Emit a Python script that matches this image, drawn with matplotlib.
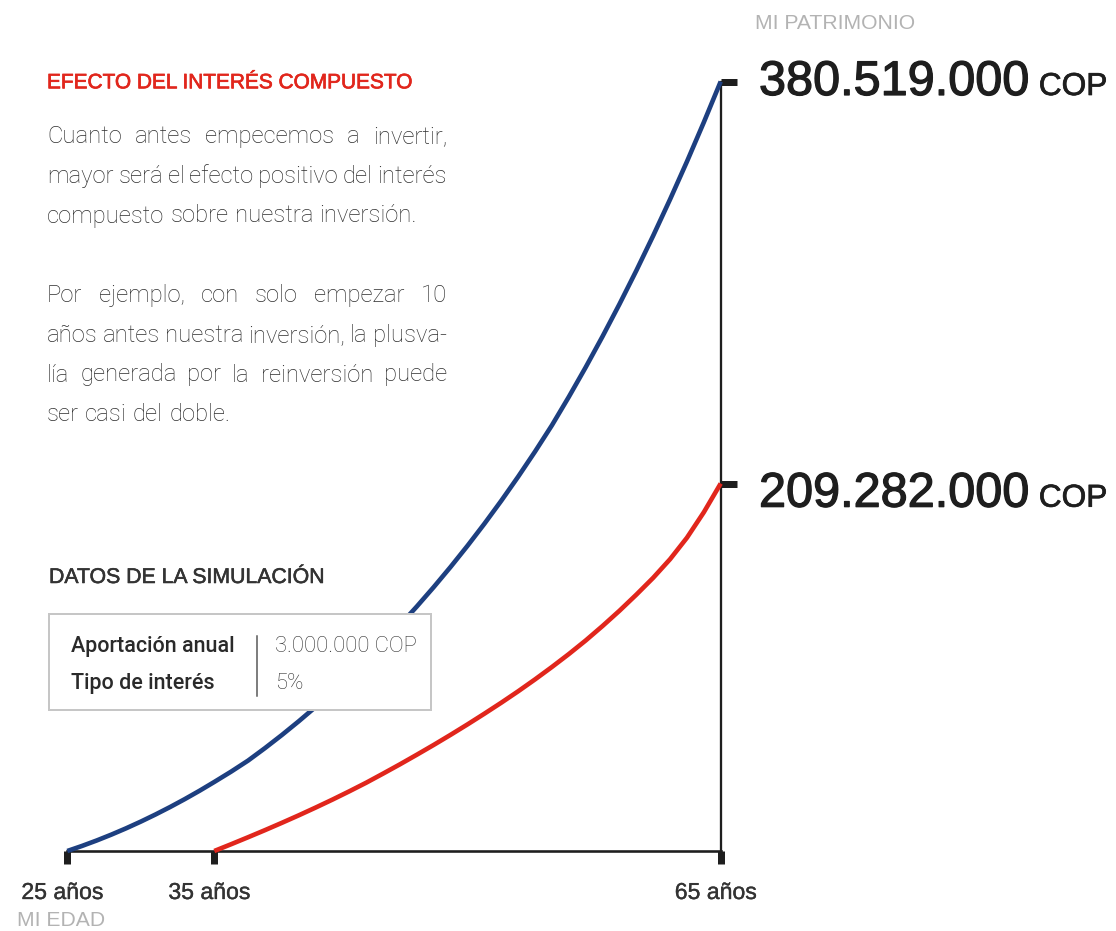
import numpy as np
import matplotlib
matplotlib.use('Agg')
import matplotlib.pyplot as plt
import matplotlib.patheffects as pe
from matplotlib.patches import Rectangle
from matplotlib.lines import Line2D
from matplotlib.transforms import ScaledTranslation

W, H = 1116, 931

# patrimonio acumulado (millones COP), año a año
edades_desde_25 = list(range(25, 66))
patrimonio_desde_25 = [0, 2.88, 5.99, 9.34, 12.92, 16.74, 20.79, 25.07, 29.58, 34.33,
                       39.32, 45.22, 51.48, 58.58, 66.04, 73.86, 82.04, 90.59, 99.52, 108.84,
                       118.56, 128.70, 139.27, 150.30, 161.80, 173.81, 186.35, 199.45, 212.17, 222.87,
                       234.06, 246.15, 258.77, 271.93, 285.65, 299.94, 314.83, 330.31, 346.40, 363.14,
                       380.519]
edades_desde_35 = list(range(35, 66))
patrimonio_desde_35 = [0, 3.87, 7.83, 11.87, 16.03, 20.30, 24.72, 29.27, 34.00, 38.89,
                       44.08, 49.37, 54.84, 60.42, 66.17, 72.09, 78.19, 84.45, 90.94, 97.72,
                       104.78, 112.13, 119.87, 128.13, 136.79, 145.96, 155.58, 166.17, 178.4, 192.9,
                       209.282]

edad_ticks = [25, 35, 65]
edad_labels = ['25 años', '35 años', '65 años']
finales = [380.519, 209.282]
finales_txt = ['380.519.000', '209.282.000']

# el dibujo original no está a escala: espaciado de los ejes (px)
x_knots, x_pos = [25, 35, 65], [0, 147, 653.4]
y_knots, y_pos = [0, 209.282, 380.519], [0, 367.5, 769.5]

BLUE = '#1d3f80'
RED = '#e1261c'
INK = '#1e1e1e'
GRAY = '#b3b3b3'
TEXT = '#2e2e2e'
SANS = ['Liberation Sans', 'DejaVu Sans']
LIGHT = ['Roboto', 'Liberation Sans', 'DejaVu Sans']


def px(x, y):
    return x / W, 1 - y / H


def pt(p):
    return p * 72 / 100


def grueso(w, c):
    return [pe.withStroke(linewidth=w, foreground=c)]


fig = plt.figure(figsize=(W / 100, H / 100), dpi=100)
fig.patch.set_facecolor('white')
ax = fig.add_axes([67.3 / W, 1 - 851 / H, (720.7 - 67.3) / W, (851 - 81.5) / H])

ax.set_xscale('function', functions=(lambda v: np.interp(v, x_knots, x_pos),
                                     lambda p: np.interp(p, x_pos, x_knots)))
ax.set_yscale('function', functions=(lambda v: np.interp(v, y_knots, y_pos),
                                     lambda p: np.interp(p, y_pos, y_knots)))
ax.set_xlim(25, 65)
ax.set_ylim(0, 380.519)

ax.plot(edades_desde_25, patrimonio_desde_25, color=BLUE, lw=pt(4.6), clip_on=False,
        solid_joinstyle='round', solid_capstyle='butt', zorder=3)
ax.plot(edades_desde_35, patrimonio_desde_35, color=RED, lw=pt(4.6), clip_on=False,
        solid_joinstyle='round', solid_capstyle='butt', zorder=3)

for s in ['top', 'left']:
    ax.spines[s].set_visible(False)
ax.spines['bottom'].set_linewidth(pt(2.6))
ax.spines['right'].set_linewidth(pt(2.3))
ax.spines['bottom'].set_color(INK)
ax.spines['right'].set_color(INK)

ax.set_xticks(edad_ticks)
ax.set_xticklabels(edad_labels, va='baseline', family=SANS, fontsize=16.6, color='#333333')
ax.tick_params(axis='x', direction='out', length=pt(13), width=pt(7), color=INK,
               pad=pt(48 - 13))
desplaza = ScaledTranslation(-5 / 100, 0, fig.dpi_scale_trans)
for lbl in ax.get_xticklabels():
    lbl.set_transform(lbl.get_transform() + desplaza)
    lbl.set_path_effects(grueso(0.25, '#333333'))
ax.yaxis.set_ticks_position('right')
ax.set_yticks(finales)
ax.set_yticklabels(['', ''])
ax.tick_params(axis='y', direction='out', length=pt(15.5), width=pt(7), color=INK)
ax.set_facecolor('none')

# textos
fig.text(*px(755, 29), 'MI PATRIMONIO', family=SANS, fontsize=15.2, color=GRAY, va='baseline')
fig.text(*px(17, 926), 'MI EDAD', family=SANS, fontsize=15.2, color=GRAY, va='baseline')

r = fig.canvas.get_renderer()
for txt, yb in zip(finales_txt, [95, 506.7]):
    t = fig.text(*px(759, yb), txt, family=SANS, fontsize=35, color=INK, va='baseline',
                 path_effects=grueso(0.9, INK))
    wnum = t.get_window_extent(r).width
    fig.text(*px(759 + wnum + 9, yb), 'COP', family=SANS, fontsize=22.8, color=INK,
             va='baseline', path_effects=grueso(0.5, INK))

fig.text(*px(47, 88.3), 'EFECTO DEL INTERÉS COMPUESTO', family=SANS, fontsize=15,
         color=RED, va='baseline', path_effects=grueso(0.5, RED))

parrafos = [
    ['Cuanto antes empecemos a invertir,',
     'mayor será el efecto positivo del interés',
     'compuesto sobre nuestra inversión.'],
    ['Por ejemplo, con solo empezar 10',
     'años antes nuestra inversión, la plusva-',
     'lía generada por la reinversión puede',
     'ser casi del doble.'],
]


def justificar(lineas, x0, x1, y0, dy, size):
    space = 0.26 * size * 100 / 72
    for i, linea in enumerate(lineas):
        palabras = linea.split()
        ts = [fig.text(0, 0, p, family=LIGHT, fontweight='light', fontsize=size,
                       color=TEXT, va='baseline') for p in palabras]
        anchos = [t.get_window_extent(r).width for t in ts]
        if i == len(lineas) - 1 or len(ts) == 1:
            gap = space
        else:
            gap = max((x1 - x0 - sum(anchos)) / (len(ts) - 1), space * 0.5)
        x = x0
        for t, w in zip(ts, anchos):
            t.set_position(px(x, y0 + i * dy))
            x += w + gap


justificar(parrafos[0], 47, 447, 143, 39.75, 17.2)
justificar(parrafos[1], 47, 447, 143 + 4 * 39.75, 39.75, 17.2)

fig.text(*px(49, 583), 'DATOS DE LA SIMULACIÓN', family=SANS, fontsize=15.3,
         color='#333333', va='baseline', path_effects=grueso(0.4, '#333333'))
fig.add_artist(Rectangle(px(49, 710), 382 / W, 96 / H, transform=fig.transFigure,
                         facecolor='white', edgecolor='#c6c6c6', lw=pt(2), zorder=5))
fig.add_artist(Line2D([256.7 / W] * 2, [1 - 636 / H, 1 - 695.7 / H], transform=fig.transFigure,
                      color='#555555', lw=pt(1.5), zorder=6))
datos = [('Aportación anual', '3.000.000 COP'), ('Tipo de interés', '5%')]
for (k, v), yb in zip(datos, [651.7, 689.3]):
    fig.text(*px(71, yb), k, family=['Roboto', 'Liberation Sans'], fontweight='medium',
             fontsize=15.5, color='#2a2a2a', va='baseline', zorder=7)
    fig.text(*px(275, yb), v, family=LIGHT, fontweight='light', fontsize=15.8,
             color='#333333', va='baseline', zorder=7)

fig.savefig('out.png', dpi=100)
